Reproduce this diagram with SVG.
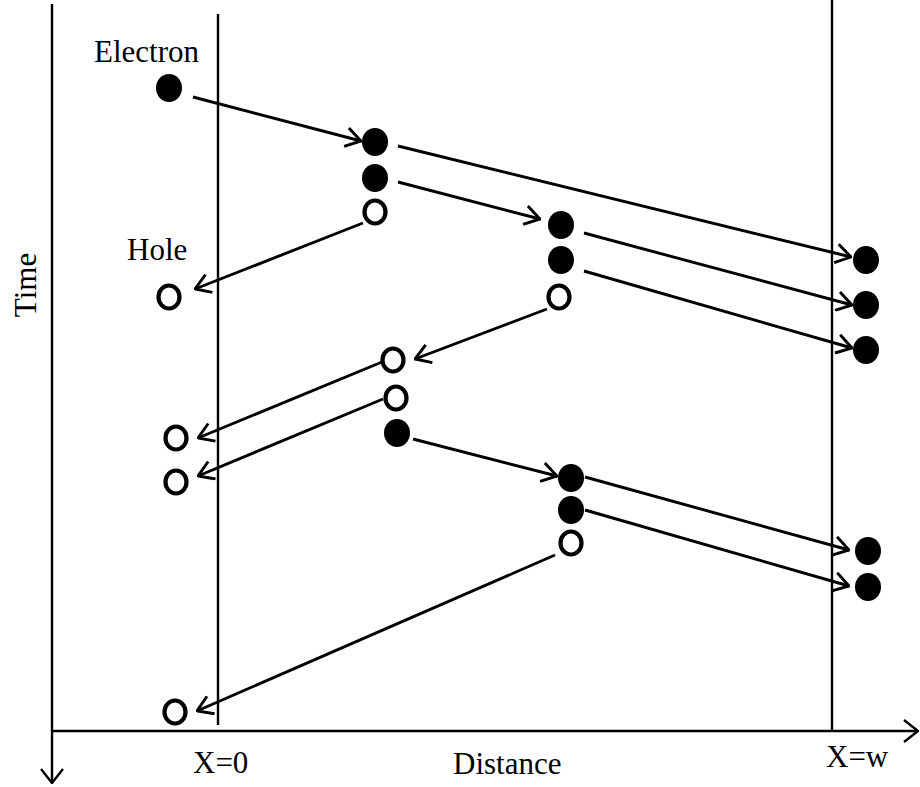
<svg xmlns="http://www.w3.org/2000/svg" width="920" height="787" viewBox="0 0 920 787">
<style>
.t{font-family:"Liberation Serif","Times New Roman",serif;font-size:31px;fill:#000}
.ax{stroke:#000;stroke-width:2.4;fill:none}
.c{stroke:#000;stroke-width:2.9;fill:none;marker-end:url(#ah)}
.e{fill:#000}
.h{fill:#fff;stroke:#000;stroke-width:4.2}
</style>
<defs>
<marker id="ah" viewBox="0 0 17 21" refX="16" refY="10.5" markerWidth="17" markerHeight="21" orient="auto" markerUnits="userSpaceOnUse">
<path d="M1,1 L16,10.5 L1,20" fill="none" stroke="#000" stroke-width="2.9"/>
</marker>
<marker id="ax" viewBox="0 0 16 24" refX="15" refY="12" markerWidth="16" markerHeight="24" orient="auto" markerUnits="userSpaceOnUse">
<path d="M1,1 L15,12 L1,23" fill="none" stroke="#000" stroke-width="2.4"/>
</marker>
</defs>
<rect width="920" height="787" fill="#fff"/>
<g id="axes">
<line class="ax" x1="52" y1="4" x2="52" y2="783" marker-end="url(#ax)"/>
<line class="ax" x1="52" y1="731" x2="918" y2="731" marker-end="url(#ax)"/>
<line class="ax" x1="218" y1="14" x2="218" y2="725"/>
<line class="ax" x1="832" y1="0" x2="832" y2="731"/>
</g>
<g id="labels">
<text class="t" x="94" y="62">Electron</text>
<text class="t" x="127" y="260">Hole</text>
<text class="t" x="193" y="773">X=0</text>
<text class="t" x="453" y="774">Distance</text>
<text class="t" x="826" y="767">X=w</text>
<text class="t" transform="translate(36,285) rotate(-90)" text-anchor="middle">Time</text>
</g>
<g id="connectors">
<line class="c" x1="193" y1="97" x2="361" y2="141"/>
<line class="c" x1="398" y1="146" x2="851" y2="257"/>
<line class="c" x1="398" y1="182" x2="540" y2="219"/>
<line class="c" x1="584" y1="233" x2="852" y2="305"/>
<line class="c" x1="584" y1="271" x2="852" y2="348"/>
<line class="c" x1="547" y1="309" x2="415" y2="359"/>
<line class="c" x1="363" y1="223" x2="195" y2="289"/>
<line class="c" x1="382" y1="362" x2="198" y2="438"/>
<line class="c" x1="383" y1="399" x2="198" y2="476"/>
<line class="c" x1="413" y1="439" x2="557" y2="476"/>
<line class="c" x1="585" y1="477" x2="849" y2="550"/>
<line class="c" x1="585" y1="510" x2="849" y2="586"/>
<line class="c" x1="555" y1="555" x2="197" y2="711"/>
</g>
<g id="electrons">
<ellipse id="e1" class="e" cx="169" cy="88" rx="13" ry="14"/>
<ellipse id="e2" class="e" cx="375" cy="142" rx="13" ry="14"/>
<ellipse id="e3" class="e" cx="375" cy="178" rx="13" ry="14"/>
<ellipse id="e4" class="e" cx="561" cy="225" rx="13" ry="14"/>
<ellipse id="e5" class="e" cx="561" cy="260" rx="13" ry="14"/>
<ellipse id="e6" class="e" cx="866" cy="260" rx="13" ry="14"/>
<ellipse id="e7" class="e" cx="866" cy="305" rx="13" ry="14"/>
<ellipse id="e8" class="e" cx="866" cy="350" rx="13" ry="14"/>
<ellipse id="e9" class="e" cx="397" cy="433" rx="13" ry="14"/>
<ellipse id="e10" class="e" cx="571" cy="478" rx="13" ry="14"/>
<ellipse id="e11" class="e" cx="571" cy="510" rx="13" ry="14"/>
<ellipse id="e12" class="e" cx="868" cy="551" rx="13" ry="14"/>
<ellipse id="e13" class="e" cx="868" cy="587" rx="13" ry="14"/>
</g>
<g id="holes">
<ellipse id="h1" class="h" cx="375" cy="212" rx="10.5" ry="11.5"/>
<ellipse id="h2" class="h" cx="169" cy="297" rx="10.5" ry="11.5"/>
<ellipse id="h3" class="h" cx="559" cy="297" rx="10.5" ry="11.5"/>
<ellipse id="h4" class="h" cx="393" cy="360" rx="10.5" ry="11.5"/>
<ellipse id="h5" class="h" cx="396" cy="398" rx="10.5" ry="11.5"/>
<ellipse id="h6" class="h" cx="176" cy="438" rx="10.5" ry="11.5"/>
<ellipse id="h7" class="h" cx="176" cy="482" rx="10.5" ry="11.5"/>
<ellipse id="h8" class="h" cx="571" cy="543" rx="10.5" ry="11.5"/>
<ellipse id="h9" class="h" cx="175" cy="712" rx="10.5" ry="11.5"/>
</g>
</svg>
